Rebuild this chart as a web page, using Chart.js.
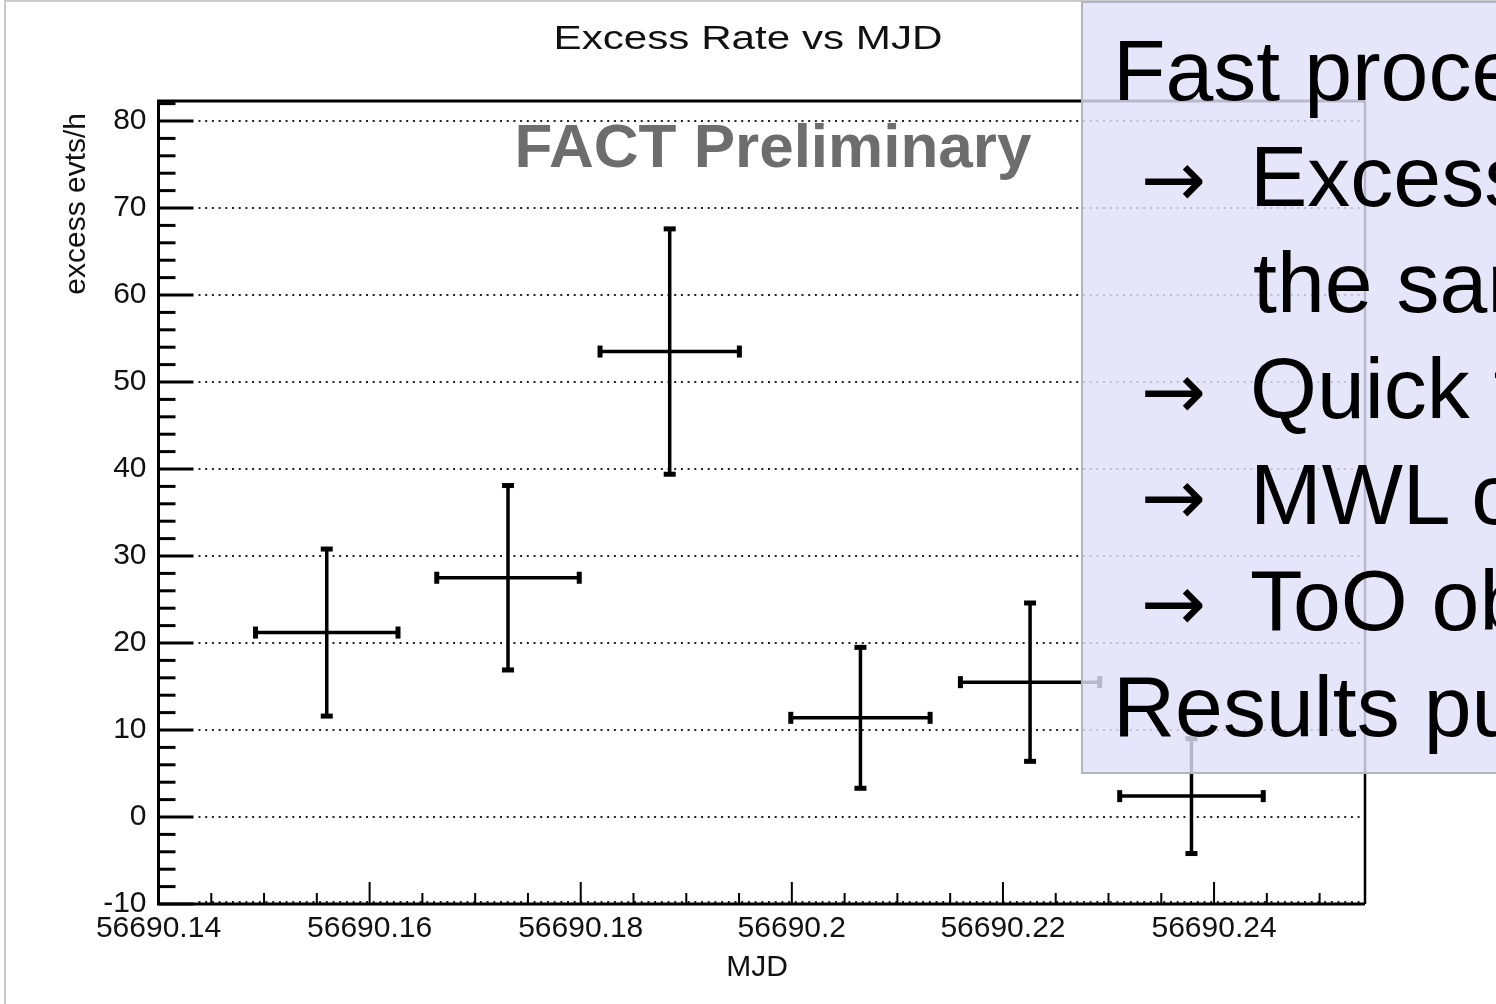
<!DOCTYPE html>
<html>
<head>
  <meta charset="utf-8" />
  <title>Excess Rate vs MJD</title>
  <script src="https://cdn.jsdelivr.net/npm/chart.js"></script>
  <style>
    html, body { margin: 0; padding: 0; background: #fff; overflow: hidden; }
    body { width: 1496px; height: 1004px; position: relative; font-family: "Liberation Sans", Arial, sans-serif; }
    #frame { position: absolute; left: 4px; top: 0; width: 1600px; height: 1100px; border-left: 2px solid #cacaca; border-top: 2px solid #cacaca; }
    #plot { position: absolute; left: 0; top: 0; }
    #notes {
      position: absolute; left: 1081px; top: 1px; width: 700px; height: 755px;
      background: rgba(224, 224, 250, 0.82); border: 2px solid #b3b3c3;
      padding-top: 14px;
      font-size: 86px; line-height: 106px; color: #000;
    }
    #notes div { white-space: nowrap; height: 106px; padding-left: 30px; }
    #notes div.arrow { padding-left: 58px; }
    #notes div.cont { padding-left: 170px; }
    #notes .ar { display: inline-block; width: 109px; line-height: 0; font-family: "DejaVu Sans", sans-serif; font-size: 78px; }
  </style>
</head>

<body>
  <div id="frame"></div>
  <canvas id="plot" width="1496" height="1004"></canvas>
  <div id="notes"><div>Fast proces</div><div class="arrow"><span class="ar">→</span>Excess</div><div class="cont">the sam</div><div class="arrow"><span class="ar">→</span>Quick f</div><div class="arrow"><span class="ar">→</span>MWL c</div><div class="arrow"><span class="ar">→</span>ToO ob</div><div>Results pu</div></div>
</body>

<script>
  // light curve points: bin centre (MJD), half bin width, excess rate and its error
  const mjd = [56690.15594, 56690.17311, 56690.18843, 56690.2065, 56690.22257, 56690.23786];
  const mjdErr = [0.00675, 0.00675, 0.0066, 0.0066, 0.0066, 0.0068];
  const excessRate = [21.2, 27.5, 53.5, 11.4, 15.5, 2.4];
  const rateErr = [9.6, 10.6, 14.1, 8.1, 9.1, 6.6];

  const xTickValues = [56690.14, 56690.16, 56690.18, 56690.2, 56690.22, 56690.24];
  const yTickValues = [-10, 0, 10, 20, 30, 40, 50, 60, 70, 80];

  const FONT = '"Liberation Sans", Arial, sans-serif';
  Chart.defaults.font.family = FONT;

  // ROOT-like frame: inward ticks, dotted grid, error crosses and captions
  const rootStyle = {
    id: "rootStyle",
    beforeDatasetsDraw(chart) {
      const { ctx, chartArea: a, scales: { x, y } } = chart;
      ctx.save();
      ctx.strokeStyle = "#222";
      ctx.lineWidth = 2;
      ctx.setLineDash([2, 4.7]);
      yTickValues.forEach((v) => {
        const py = Math.round(y.getPixelForValue(v)) - (v === y.min ? 2 : 0);
        ctx.beginPath();
        ctx.moveTo(a.left + 40, py);
        ctx.lineTo(a.right, py);
        ctx.stroke();
      });
      ctx.setLineDash([]);

      // y ticks every 2, long every 10
      ctx.strokeStyle = "#000";
      ctx.lineWidth = 3;
      for (let v = -10; v <= y.max; v += 2) {
        const py = y.getPixelForValue(v);
        const len = v % 10 === 0 ? 35 : 17;
        ctx.beginPath();
        ctx.moveTo(a.left, py);
        ctx.lineTo(a.left + len, py);
        ctx.stroke();
      }

      // x ticks every 0.005, long every 0.02
      ctx.lineWidth = 2;
      const n = Math.floor((x.max - x.min) / 0.005 + 1e-6);
      for (let k = 0; k <= n; k++) {
        const px = x.getPixelForValue(x.min + k * 0.005);
        const len = k % 4 === 0 ? 22 : 11;
        ctx.beginPath();
        ctx.moveTo(px, a.bottom);
        ctx.lineTo(px, a.bottom - len);
        ctx.stroke();
      }
      ctx.restore();
    },
    afterDatasetsDraw(chart) {
      const { ctx, chartArea: a, scales: { x, y } } = chart;
      ctx.save();
      ctx.strokeStyle = "#000";
      ctx.fillStyle = "#000";
      ctx.lineWidth = 3.5;
      mjd.forEach((t, i) => {
        const cx = x.getPixelForValue(t);
        const cy = y.getPixelForValue(excessRate[i]);
        const x0 = x.getPixelForValue(t - mjdErr[i]);
        const x1 = x.getPixelForValue(t + mjdErr[i]);
        const y0 = y.getPixelForValue(excessRate[i] + rateErr[i]);
        const y1 = y.getPixelForValue(excessRate[i] - rateErr[i]);
        ctx.beginPath();
        ctx.moveTo(x0, cy);
        ctx.lineTo(x1, cy);
        ctx.moveTo(cx, y0);
        ctx.lineTo(cx, y1);
        ctx.stroke();
        // end caps
        ctx.fillRect(x0 - 2.5, cy - 6, 5, 12);
        ctx.fillRect(x1 - 2.5, cy - 6, 5, 12);
        ctx.fillRect(cx - 6, y0 - 2.5, 12, 5);
        ctx.fillRect(cx - 6, y1 - 2.5, 12, 5);
      });

      // frame
      ctx.lineWidth = 3;
      ctx.beginPath();
      ctx.moveTo(a.right, a.bottom);
      ctx.lineTo(a.left, a.bottom);
      ctx.lineTo(a.left, a.top);
      ctx.lineTo(a.right, a.top);
      ctx.stroke();
      ctx.lineWidth = 2.5;
      ctx.beginPath();
      ctx.moveTo(a.right, a.top);
      ctx.lineTo(a.right, a.bottom);
      ctx.stroke();

      // captions
      ctx.fillStyle = "#111";
      ctx.textBaseline = "alphabetic";
      ctx.save();
      ctx.translate(748, 49);
      ctx.scale(1.24, 1);
      ctx.font = "34px " + FONT;
      ctx.textAlign = "center";
      ctx.fillText("Excess Rate vs MJD", 0, 0);
      ctx.restore();

      ctx.font = "30px " + FONT;
      ctx.textAlign = "center";
      ctx.fillText("MJD", 757, 976);

      ctx.save();
      ctx.translate(85, 113);
      ctx.rotate(-Math.PI / 2);
      ctx.textAlign = "right";
      ctx.fillText("excess evts/h", 0, 0);
      ctx.restore();

      ctx.fillStyle = "#6d6d6d";
      ctx.font = "bold 62px " + FONT;
      ctx.textAlign = "center";
      ctx.fillText("FACT Preliminary", 773, 167);
      ctx.restore();
    },
  };

  new Chart(document.getElementById("plot"), {
    type: "scatter",
    data: {
      datasets: [
        {
          label: "excess rate",
          data: mjd.map((t, i) => ({ x: t, y: excessRate[i] })),
          pointRadius: 0,
          showLine: false,
        },
      ],
    },
    options: {
      responsive: false,
      animation: false,
      layout: { padding: { top: 101, right: 131, left: 0, bottom: 0 } },
      plugins: { legend: { display: false }, tooltip: { enabled: false } },
      scales: {
        x: {
          type: "linear",
          min: 56690.14,
          max: 56690.2543,
          afterBuildTicks: (s) => { s.ticks = xTickValues.map((v) => ({ value: v })); },
          afterFit: (s) => { s.height = 100; },
          grid: { display: false, drawTicks: false },
          border: { display: false },
          ticks: {
            autoSkip: false,
            maxRotation: 0,
            padding: 7,
            color: "#111",
            font: { size: 30 },
            callback: (v) => String(Number(v.toFixed(2))),
          },
        },
        y: {
          min: -10,
          max: 82.3,
          afterBuildTicks: (s) => { s.ticks = yTickValues.map((v) => ({ value: v })); },
          afterFit: (s) => { s.width = 158.5; },
          grid: { display: false, drawTicks: false },
          border: { display: false },
          ticks: {
            autoSkip: false,
            padding: 12,
            color: "#111",
            font: { size: 30 },
          },
        },
      },
    },
    plugins: [rootStyle],
  });
</script>
</html>
